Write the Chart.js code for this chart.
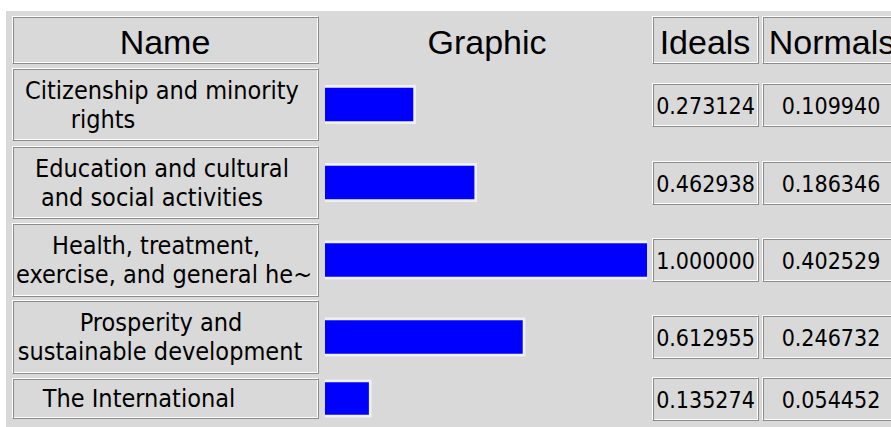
<!DOCTYPE html>
<html>
<head>
<meta charset="utf-8">
<script src="https://cdn.jsdelivr.net/npm/chart.js@4.4.1/dist/chart.umd.min.js"></script>
<style>
  html, body { margin: 0; padding: 0; background: #fff; }
  #root { position: relative; width: 891px; height: 427px; overflow: hidden; background: #fff; }
  #panel { position: absolute; left: 6px; top: 11px; width: 900px; height: 430px; background: #d9d9d9; }
  .cell { position: absolute; box-sizing: border-box;
          border: 1px solid; border-color: #fff #8c8c8c #8c8c8c #fff;
          box-shadow: inset 1px 1px 0 #8c8c8c, inset -1px -1px 0 #fff; }
  .head { font-family: "Liberation Sans", Arial, sans-serif; font-size: 34px; color: #000;
          position: absolute; white-space: nowrap; transform: translateX(-50%); line-height: 50px; }
  .line { position: absolute; white-space: nowrap; transform: translateX(-50%);
          font-family: "DejaVu Sans Condensed", "DejaVu Sans", sans-serif; font-stretch: condensed;
          font-size: 25px; line-height: 29px; color: #000; }
  .val { position: absolute; white-space: nowrap; transform: translateX(-50%);
         font-family: "DejaVu Sans Condensed", "DejaVu Sans", sans-serif; font-stretch: condensed;
         font-size: 23px; color: #000; }
  canvas { position: absolute; }
</style>
</head>
<body>
<div id="root"><div id="panel"></div></div>
<script>
// data
const headers = ['Name', 'Graphic', 'Ideals', 'Normals'];
const names = [
  'Citizenship and minority\nrights',
  'Education and cultural\nand social activities',
  'Health, treatment,\nexercise, and general he~',
  'Prosperity and\nsustainable development',
  'The International'
];
const ideals = [0.273124, 0.462938, 1.000000, 0.612955, 0.135274];
const normals = [0.109940, 0.186346, 0.402529, 0.246732, 0.054452];

// layout of the grid (pixels)
const rowTop = [68, 146, 223, 300, 378];
const rowH = [73, 73, 74, 74, 41];
const lineCenters = [[162, 103], [162, 152], [156, 164], [161, 160], [139]];
const root = document.getElementById('root');

function box(x, y, w, h) {
  const d = document.createElement('div');
  d.className = 'cell';
  d.style.left = x + 'px'; d.style.top = y + 'px';
  d.style.width = w + 'px'; d.style.height = h + 'px';
  root.appendChild(d);
}
function text(cls, str, cx, y) {
  const s = document.createElement('div');
  s.className = cls;
  s.textContent = str;
  s.style.left = cx + 'px'; s.style.top = y + 'px';
  root.appendChild(s);
  return s;
}

// header row
box(12, 16, 307, 48);
box(652, 16, 107, 48);
box(762, 16, 140, 48);
const headX = [165, 487, 705, 832];
headers.forEach((h, i) => text('head', h, headX[i], 17));

names.forEach((name, i) => {
  const top = rowTop[i], h = rowH[i];
  box(12, top, 307, h);
  const lines = name.split('\n');
  const y0 = top + (h - lines.length * 29) / 2;
  lines.forEach((ln, k) => text('line', ln, lineCenters[i][k], y0 + k * 29));

  const vy = top + h / 2 - 22;
  box(652, vy, 107, 44);
  box(762, vy, 140, 44);
  const a = text('val', ideals[i].toFixed(6), 705.5, vy + 1);
  a.style.lineHeight = '44px';
  const b = text('val', normals[i].toFixed(6), 831, vy + 1);
  b.style.lineHeight = '44px';

  const c = document.createElement('canvas');
  c.width = 328; c.height = h;
  c.style.left = '322px'; c.style.top = top + 'px';
  root.appendChild(c);
  const thick = h > 50 ? 33 : 32;
  new Chart(c, {
    type: 'bar',
    data: {
      labels: [name],
      datasets: [
        { data: [ideals[i]], backgroundColor: '#0000ff', barThickness: thick, grouped: false, order: 1 },
        { data: [ideals[i]], backgroundColor: '#f0f0f0', barThickness: thick, grouped: false, order: 2, inflateAmount: 3 }
      ]
    },
    options: {
      indexAxis: 'y',
      responsive: false,
      animation: false,
      devicePixelRatio: 1,
      layout: { padding: { left: 3, right: 3, top: 0, bottom: 0 } },
      scales: {
        x: { min: 0, max: 1, display: false },
        y: { display: false }
      },
      plugins: { legend: { display: false }, tooltip: { enabled: false } }
    }
  });
});
</script>
</body>
</html>
